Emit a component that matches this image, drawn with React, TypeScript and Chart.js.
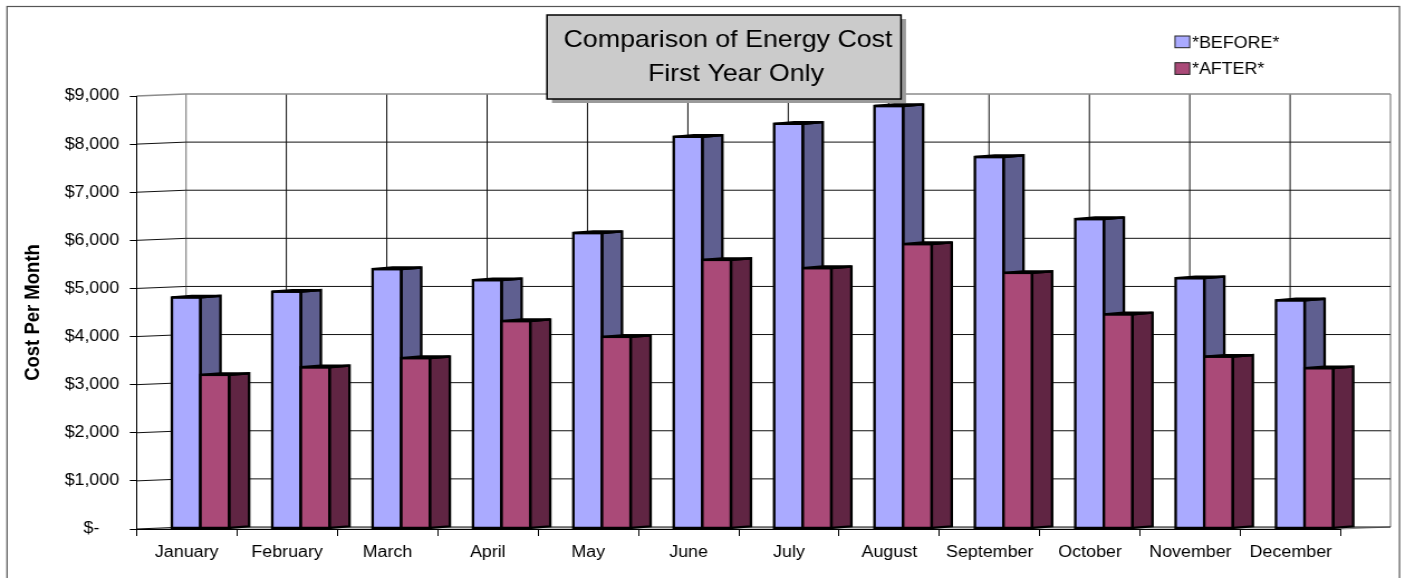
import { useEffect, useRef } from 'react';
import { Chart, registerables } from 'chart.js';

Chart.register(...registerables);

// ---------- data ----------
const months = ['January', 'February', 'March', 'April', 'May', 'June', 'July', 'August', 'September', 'October', 'November', 'December'];
const beforeCost = [4800, 4920, 5390, 5160, 6140, 8140, 8410, 8780, 7720, 6430, 5200, 4740];
const afterCost = [3190, 3350, 3540, 4310, 3980, 5580, 5410, 5910, 5310, 4450, 3570, 3330];
const seriesNames = ['*BEFORE*', '*AFTER*'];
const titleLines = ['Comparison of Energy Cost', 'First Year Only'];
const yTitle = 'Cost Per Month';
const yMin = 0;
const yMax = 9000;
const yStep = 1000;

// ---------- styling ----------
const frontColors = ['#aaaaff', '#aa4a78'];
const sideColors = ['#5f5f90', '#602543'];
const topColors = ['#8a8ad8', '#86385d'];

const W = 1268; // internal canvas width (stretched to 1415 on screen)
const H = 578;
const SX = 1415 / W;
const FRONT_LEFT = 136.5 / SX;
const FRONT_RIGHT = 1341 / SX;
const FRONT_TOP = 96;
const FRONT_BOTTOM = 529;
const WALL_DX = 49.5 / SX;
const WALL_DY = -2;
const BAR_SHIFT_X = 13.8 / SX;
const BAR_SHIFT_Y = -0.6;
const BAR_DX = 20 / SX;
const BAR_DY = -1.6;
const FONT = '"Liberation Sans", Arial, Helvetica, sans-serif';

const fmtTick = (v: number) => (v === 0 ? '$-    ' : '$' + v.toLocaleString('en-US'));

const threeDPlugin = {
  id: 'threeD',
  beforeDraw(chart: any) {
    const { ctx, chartArea: a } = chart;
    const x = chart.scales.x;
    const y = chart.scales.y;
    ctx.save();
    ctx.fillStyle = '#ffffff';
    ctx.fillRect(0, 0, chart.width, chart.height);
    // outer border
    ctx.strokeStyle = '#555';
    ctx.lineWidth = 1.2;
    ctx.strokeRect(7 / SX, 6.5, 1399.5 / SX - 7 / SX, 620);

    const bl = a.left + WALL_DX;
    const br = a.right + WALL_DX;
    const yTop = y.getPixelForValue(yMax) + WALL_DY;
    const yBot = y.getPixelForValue(yMin) + WALL_DY;

    // floor
    ctx.fillStyle = '#c8c8c8';
    ctx.beginPath();
    ctx.moveTo(a.left, a.bottom);
    ctx.lineTo(a.right, a.bottom);
    ctx.lineTo(br, yBot);
    ctx.lineTo(bl, yBot);
    ctx.closePath();
    ctx.fill();
    ctx.strokeStyle = '#888';
    ctx.lineWidth = 1;
    ctx.beginPath();
    ctx.moveTo(a.right, a.bottom);
    ctx.lineTo(br, yBot);
    ctx.stroke();

    // vertical gridlines on the back wall
    for (let i = 0; i <= months.length; i++) {
      const px = x.getPixelForValue(i - 0.5) + WALL_DX;
      const edge = i === 0 || i === months.length;
      ctx.strokeStyle = edge ? '#8c8c8c' : '#111';
      ctx.lineWidth = edge ? 1.3 : 1;
      ctx.beginPath();
      ctx.moveTo(px, yTop);
      ctx.lineTo(px, yBot);
      ctx.stroke();
    }
    // horizontal gridlines: side wall slant + back wall
    y.ticks.forEach((t: any) => {
      const py = y.getPixelForValue(t.value);
      const top = t.value === yMax;
      ctx.strokeStyle = top ? '#8c8c8c' : '#111';
      ctx.lineWidth = top ? 1.5 : 1;
      ctx.beginPath();
      ctx.moveTo(a.left, py);
      ctx.lineTo(bl, py + WALL_DY);
      ctx.lineTo(br, py + WALL_DY);
      ctx.stroke();
    });
    ctx.restore();
  },
  // cancel default per-dataset drawing; bars are drawn in series order below
  beforeDatasetDraw() {
    return false;
  },
  afterDatasetsDraw(chart: any) {
    const ctx = chart.ctx;
    ctx.save();
    ctx.translate(BAR_SHIFT_X, BAR_SHIFT_Y);
    const n = chart.data.datasets.length;
    for (let idx = 0; idx < n; idx++) {
      const meta = chart.getDatasetMeta(idx);
      meta.data.forEach((el: any) => {
        // front face through Chart.js element
        el.draw(ctx);
        const { x, y, base, width } = el.getProps(['x', 'y', 'base', 'width'], true);
        const l = x - width / 2;
        const r = x + width / 2;
        ctx.save();
        ctx.strokeStyle = '#000';
        ctx.lineWidth = 2.3;
        ctx.lineJoin = 'miter';
        // side face
        ctx.fillStyle = sideColors[idx];
        ctx.beginPath();
        ctx.moveTo(r, y);
        ctx.lineTo(r + BAR_DX, y + BAR_DY);
        ctx.lineTo(r + BAR_DX, base + BAR_DY);
        ctx.lineTo(r, base);
        ctx.closePath();
        ctx.fill();
        ctx.stroke();
        // top face
        ctx.fillStyle = topColors[idx];
        ctx.beginPath();
        ctx.moveTo(l, y);
        ctx.lineTo(l + BAR_DX, y + BAR_DY);
        ctx.lineTo(r + BAR_DX, y + BAR_DY);
        ctx.lineTo(r, y);
        ctx.closePath();
        ctx.fill();
        ctx.stroke();
        // front outline
        ctx.strokeRect(l, y, width, base - y);
        ctx.restore();
      });
    }
    ctx.restore();
  },
  afterDraw(chart: any) {
    const ctx = chart.ctx;
    ctx.save();
    // title box with shadow
    const bx = 547 / SX;
    const bw = 901 / SX - bx;
    const by = 15;
    const bh = 84;
    ctx.fillStyle = '#9a9a9a';
    ctx.fillRect(bx + 5 / SX, by + 4, bw, bh);
    ctx.fillStyle = '#cbcbcb';
    ctx.fillRect(bx, by, bw, bh);
    ctx.strokeStyle = '#000';
    ctx.lineWidth = 1.5;
    ctx.strokeRect(bx, by, bw, bh);
    ctx.fillStyle = '#000';
    ctx.font = `24px ${FONT}`;
    ctx.textAlign = 'center';
    ctx.textBaseline = 'alphabetic';
    ctx.fillText(titleLines[0], 728 / SX, 46.7);
    ctx.fillText(titleLines[1], 736 / SX, 81);

    // legend
    ctx.font = `16px ${FONT}`;
    ctx.textAlign = 'left';
    const lx = 1175 / SX;
    const rows = [36, 62.7];
    seriesNames.forEach((name, i) => {
      const ry = rows[i];
      ctx.fillStyle = frontColors[i];
      ctx.fillRect(lx, ry, 13.2, 11.7);
      ctx.strokeStyle = '#222';
      ctx.lineWidth = 1;
      ctx.strokeRect(lx, ry, 13.2, 11.7);
      ctx.fillStyle = '#000';
      ctx.fillText(name, 1192 / SX, ry + 11.7);
    });
    ctx.restore();
  },
};

export default function App() {
  const ref = useRef<HTMLCanvasElement | null>(null);
  useEffect(() => {
    if (!ref.current) return;
    Chart.defaults.font.family = FONT;
    Chart.defaults.font.size = 16;
    Chart.defaults.color = '#000';
    const chart = new Chart(ref.current, {
      type: 'bar',
      data: {
        labels: months,
        datasets: [
          { label: seriesNames[0], data: beforeCost, backgroundColor: frontColors[0], borderWidth: 0 },
          { label: seriesNames[1], data: afterCost, backgroundColor: frontColors[1], borderWidth: 0 },
        ],
      },
      options: {
        responsive: false,
        maintainAspectRatio: false,
        animation: false,
        devicePixelRatio: 1,
        events: [],
        datasets: { bar: { categoryPercentage: 0.57, barPercentage: 1.0 } },
        layout: { padding: { left: 0, right: W - FRONT_RIGHT, top: FRONT_TOP, bottom: 0 } },
        plugins: {
          legend: { display: false },
          title: { display: false },
          tooltip: { enabled: false },
        },
        scales: {
          x: {
            offset: true,
            grid: { display: true, offset: true, drawOnChartArea: false, drawTicks: true, tickLength: 7, color: '#000' },
            border: { display: true, color: '#000', width: 1 },
            ticks: { color: '#000', font: { size: 16 }, padding: 7, maxRotation: 0, autoSkip: false },
            afterFit: (s: any) => { s.height = H - FRONT_BOTTOM; },
          },
          y: {
            min: yMin,
            max: yMax,
            ticks: { stepSize: yStep, color: '#000', font: { size: 16 }, padding: 9.5, callback: (v: any) => fmtTick(Number(v)) },
            grid: { display: true, drawOnChartArea: false, drawTicks: true, tickLength: 6, color: '#000' },
            border: { display: true, color: '#000', width: 1 },
            title: { display: true, text: yTitle, color: '#000', font: { size: 18.5, weight: 'bold' }, padding: { top: 19, bottom: 0 } },
            afterFit: (s: any) => { s.width = FRONT_LEFT; },
          },
        },
      },
      plugins: [threeDPlugin],
    });
    return () => chart.destroy();
  }, []);
  return (
    <div style={{ position: 'fixed', left: 0, top: 0, width: '1415px', height: '578px', background: '#fff' }}>
      <canvas ref={ref} width={W} height={H} style={{ width: '1415px', height: '578px', display: 'block' }} />
    </div>
  );
}
